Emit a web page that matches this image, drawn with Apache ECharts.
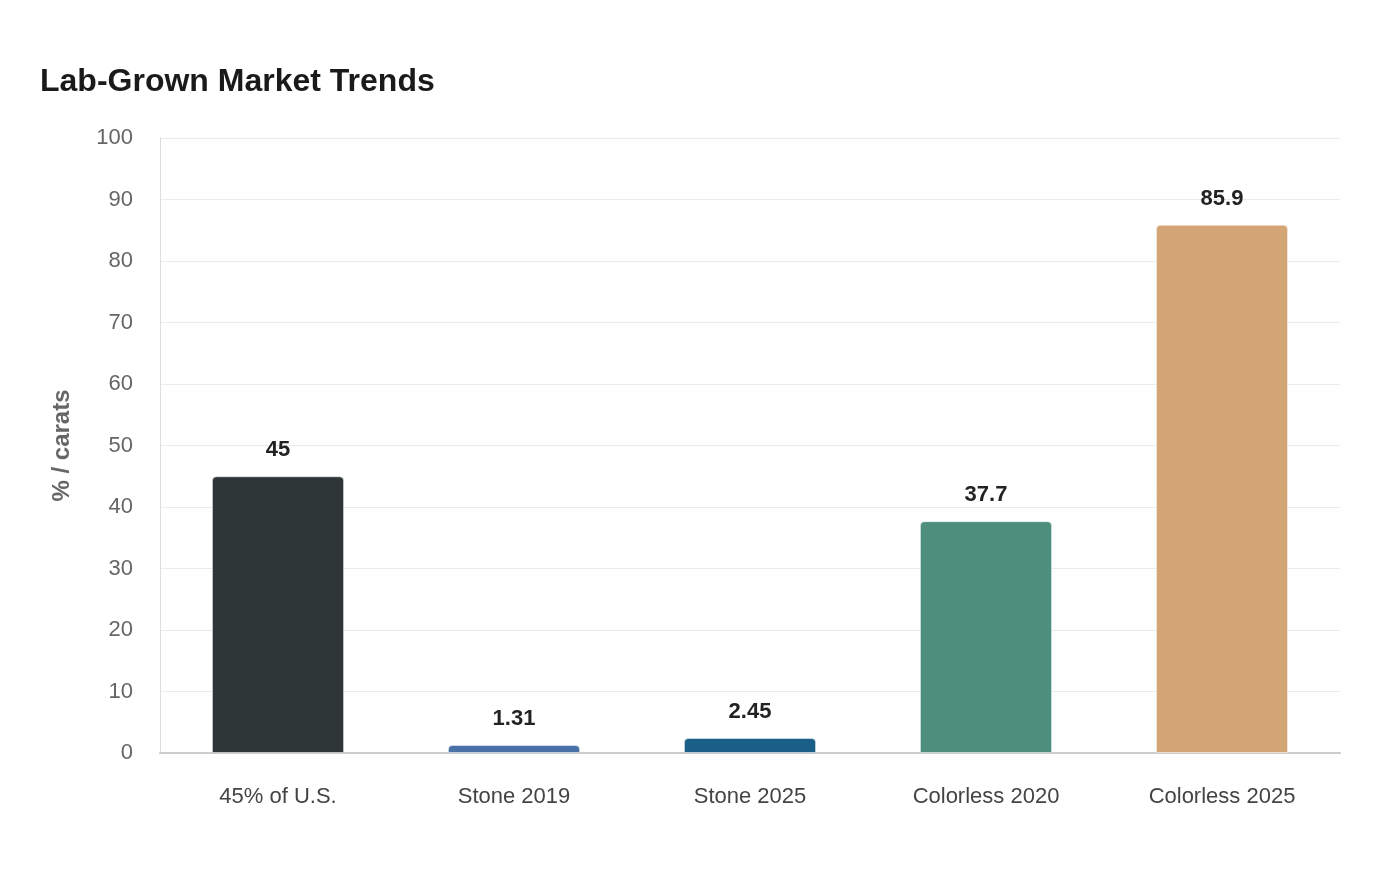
<!DOCTYPE html>
<html>
<head>
<meta charset="utf-8">
<script src="https://cdn.jsdelivr.net/npm/echarts@6/dist/echarts.min.js"></script>
<style>
  html, body { margin: 0; padding: 0; background: #fff; }
  #chart { width: 1400px; height: 880px; }
</style>
</head>
<body>
<div id="chart"></div>
<script>
const categories = ['45% of U.S.', 'Stone 2019', 'Stone 2025', 'Colorless 2020', 'Colorless 2025'];
const values = [45, 1.31, 2.45, 37.7, 85.9];
const barColors = ['#2e3638', '#4a70a8', '#1a5f87', '#4e8e7c', '#d4a574'];

const chart = echarts.init(document.getElementById('chart'));

chart.setOption({
  backgroundColor: '#fff',
  title: {
    text: 'Lab-Grown Market Trends',
    left: 35,
    top: 61,
    textStyle: {
      fontFamily: 'Liberation Sans, Arial, sans-serif',
      fontSize: 32,
      fontWeight: 'bold',
      color: '#1a1a1a'
    }
  },
  grid: {
    left: 160,
    right: 60,
    top: 138,
    bottom: 127
  },
  xAxis: {
    type: 'category',
    data: categories,
    axisTick: { show: false },
    axisLine: { lineStyle: { color: '#cccccc', width: 2 } },
    axisLabel: {
      margin: 33,
      fontSize: 22,
      color: '#444',
      fontFamily: 'Liberation Sans, Arial, sans-serif'
    }
  },
  yAxis: {
    type: 'value',
    min: 0,
    max: 100,
    interval: 10,
    name: '% / carats',
    nameLocation: 'middle',
    nameGap: 86,
    nameTextStyle: {
      fontSize: 24,
      fontWeight: 'bold',
      color: '#666',
      fontFamily: 'Liberation Sans, Arial, sans-serif'
    },
    axisLine: { show: true, lineStyle: { color: '#dddddd', width: 1 } },
    axisTick: { show: false },
    axisLabel: {
      margin: 27,
      fontSize: 22,
      color: '#666',
      fontFamily: 'Liberation Sans, Arial, sans-serif',
      padding: [4, 0, 0, 0]
    },
    splitLine: { lineStyle: { color: '#ebebeb', width: 1 } }
  },
  series: [{
    type: 'bar',
    data: values.map((v, i) => ({
      value: v,
      itemStyle: { color: barColors[i] }
    })),
    barWidth: '56%',
    itemStyle: {
      borderRadius: [4, 4, 0, 0],
      borderColor: 'rgba(255,255,255,0.5)',
      borderWidth: 1
    },
    label: {
      show: true,
      position: 'top',
      distance: 15,
      fontSize: 22,
      fontWeight: 'bold',
      color: '#222',
      fontFamily: 'Liberation Sans, Arial, sans-serif'
    }
  }]
});
</script>
</body>
</html>
